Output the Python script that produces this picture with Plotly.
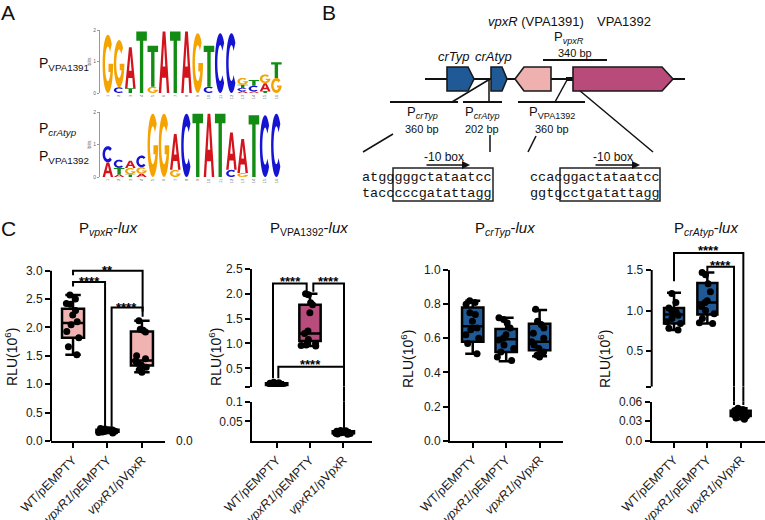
import math
import plotly.graph_objects as go

W, H = 765, 520
SANS = "Liberation Sans, Arial, sans-serif"
MONO = "Liberation Mono, Courier New, monospace"

# ------------------------------------------------------------------ DATA
categories = ["WT/pEMPTY", "<i>vpxR1</i>/pEMPTY", "<i>vpxR1</i>/pVpxR"]

# Panel C, RLU (x10^6), 12 replicates per strain
pvpxr_wt  = [2.57, 2.50, 2.42, 2.41, 2.30, 2.22, 2.10, 2.05, 1.93, 1.82, 1.66, 1.52]
pvpxr_emp = [0.22, 0.21, 0.20, 0.20, 0.19, 0.18, 0.18, 0.17, 0.17, 0.16, 0.15, 0.14]
pvpxr_vpx = [2.12, 1.97, 1.95, 1.92, 1.50, 1.45, 1.41, 1.37, 1.34, 1.30, 1.25, 1.21]

p1392_wt  = [0.22, 0.21, 0.20, 0.20, 0.19, 0.19, 0.18, 0.18, 0.17, 0.16, 0.15, 0.14]
p1392_emp = [2.00, 1.98, 1.82, 1.78, 1.62, 1.25, 1.20, 1.08, 1.00, 0.97, 0.96, 0.95]
p1392_vpx = [0.027, 0.026, 0.025, 0.024, 0.023, 0.022, 0.022, 0.021, 0.020, 0.019, 0.018, 0.017]

pcrtyp_wt  = [0.82, 0.81, 0.80, 0.75, 0.74, 0.70, 0.66, 0.65, 0.62, 0.60, 0.57, 0.51]
pcrtyp_emp = [0.72, 0.71, 0.69, 0.66, 0.62, 0.60, 0.59, 0.56, 0.54, 0.52, 0.49, 0.47]
pcrtyp_vpx = [0.77, 0.70, 0.68, 0.66, 0.63, 0.60, 0.58, 0.56, 0.54, 0.52, 0.50, 0.49]

pcratyp_wt  = [1.21, 1.10, 1.03, 1.00, 0.98, 0.96, 0.94, 0.90, 0.86, 0.84, 0.78, 0.76]
pcratyp_emp = [1.47, 1.44, 1.33, 1.23, 1.12, 1.10, 1.05, 1.00, 0.96, 0.90, 0.85, 0.84]
pcratyp_vpx = [0.050, 0.048, 0.046, 0.045, 0.044, 0.043, 0.042, 0.041, 0.040, 0.038, 0.035, 0.033]

# box statistics per category: q1, median, q3, lower whisker, upper whisker
pvpxr_q1, pvpxr_med, pvpxr_q3 = [1.82, 0.165, 1.33], [2.08, 0.18, 1.42], [2.33, 0.20, 1.93]
pvpxr_lo, pvpxr_hi = [1.52, 0.14, 1.21], [2.57, 0.22, 2.12]
p1392_q1, p1392_med, p1392_q3 = [0.165, 1.05, 0.0195], [0.18, 1.20, 0.022], [0.20, 1.78, 0.0245]
p1392_lo, p1392_hi = [0.14, 0.95, 0.017], [0.22, 2.00, 0.027]
pcrtyp_q1, pcrtyp_med, pcrtyp_q3 = [0.58, 0.52, 0.53], [0.67, 0.595, 0.58], [0.78, 0.655, 0.685]
pcrtyp_lo, pcrtyp_hi = [0.51, 0.465, 0.495], [0.82, 0.72, 0.766]
pcratyp_q1, pcratyp_med, pcratyp_q3 = [0.84, 0.95, 0.038], [0.95, 1.10, 0.042], [1.03, 1.34, 0.046]
pcratyp_lo, pcratyp_hi = [0.76, 0.84, 0.033], [1.22, 1.47, 0.050]

# significance brackets: x_left, x_right, top, left end, right end, right-end segment, label, label x, label y
pvpxr_brackets = [
    (0.0, 2.02, 3.00, 2.92, 2.19, 'u', "**", 1.0, 3.08),
    (0.0, 0.93, 2.80, 2.72, 0.25, 'u', "****", 0.49, 2.88),
    (1.12, 2.02, 2.35, 0.25, 2.28, 'u', "****", 1.56, 2.43),
]
p1392_brackets = [
    (-0.11, 0.90, 2.21, 0.30, 2.04, 'u', "****", 0.40, 2.32),
    (1.10, 2.02, 2.21, 2.04, 0.53, 'u', "****", 1.56, 2.32),
    (0.05, 2.02, 0.53, 0.30, 0.029, 'l', "****", 1.00, 0.66),
]
pcrtyp_brackets = []
pcratyp_brackets = [
    (0.0, 2.08, 1.71, 1.36, 0.055, 'l', "****", 1.02, 1.79),
    (1.0, 1.80, 1.54, 1.48, 0.055, 'l', "****", 1.38, 1.61),
]

# Panel A sequence logos: bits per letter, bottom to top, per position
logo1_columns = [
    [('G', 1.85)], [('C', 0.18), ('G', 1.50)], [('T', 0.15), ('A', 1.30)], [('T', 1.95)],
    [('G', 0.20), ('T', 1.30)], [('A', 1.95)], [('T', 1.95)], [('A', 1.95)],
    [('G', 1.90)], [('C', 0.20), ('T', 1.30)], [('C', 1.90)], [('C', 1.90)],
    [('A', 0.06), ('C', 0.10), ('T', 0.10), ('G', 0.22)],
    [('A', 0.05), ('C', 0.18), ('T', 0.18)],
    [('T', 0.06), ('A', 0.25), ('G', 0.28)],
    [('G', 0.48), ('T', 0.50)],
]
logo2_columns = [
    [('A', 0.45), ('C', 0.50)], [('A', 0.08), ('T', 0.20), ('C', 0.25)],
    [('T', 0.08), ('G', 0.20), ('A', 0.22)], [('A', 0.10), ('G', 0.20), ('C', 0.36)],
    [('G', 1.95)], [('G', 1.95)], [('G', 0.22), ('A', 1.10)], [('C', 1.95)],
    [('T', 1.95)], [('A', 1.95)], [('T', 1.95)], [('C', 0.22), ('A', 1.15)],
    [('G', 0.12), ('A', 1.05)], [('T', 1.90)], [('C', 1.90)], [('C', 1.95)],
]

# Panel B sequences
seq_left = ["atgggggctataatcc", "tacccccgatattagg"]
seq_right = ["ccacggactataatcc", "ggtgcctgatattagg"]

# ------------------------------------------------------------------ STYLE
PINK, MAGENTA, BLUE = "#F0B3B2", "#B84C7C", "#1F5A97"
LETTER_COL = {'G': '#F5A300', 'A': '#D3141C', 'T': '#128C12', 'C': '#1414D2'}


def ydom(p0, v0, p1, v1, r0, r1):
    k = (p0 - p1) / (v1 - v0)
    bot = p0 - (r0 - v0) * k
    top = p0 - (r1 - v0) * k
    return [1 - bot / H, 1 - top / H]


def xdom(a, b):
    return [a / W, b / W]


fig = go.Figure()
shapes, annotations = [], []

AXY = dict(showgrid=False, zeroline=False, showline=True, linecolor='black', linewidth=2,
           ticks='outside', ticklen=5, tickwidth=2, tickcolor='black', automargin=False,
           tickfont=dict(family=SANS, size=12, color='#1a1a1a'))
AXX = dict(AXY, tickvals=[0, 1, 2], ticktext=categories, tickangle=-45,
           tickfont=dict(family=SANS, size=12.5, color='#1a1a1a'))

charts = [
    dict(x='x', yu='y', yl=None, xd=xdom(51, 165), xr=[-0.64, 2.67],
         yud=ydom(441, 0, 270.7, 3.0, 0, 3.14), yur=[0, 3.14], spine=(0, 3.0),
         yu_ticks=[0, 0.5, 1, 1.5, 2, 2.5, 3], yu_text=['0.0', '0.5', '1.0', '1.5', '2.0', '2.5', '3.0'],
         data=[pvpxr_wt, pvpxr_emp, pvpxr_vpx], seg=['u', 'u', 'u'],
         st=(pvpxr_q1, pvpxr_med, pvpxr_q3, pvpxr_lo, pvpxr_hi), color=PINK, width=0.64,
         br=pvpxr_brackets),
    dict(x='x2', yu='y3', yl='y2', xd=xdom(252, 372), xr=[-0.74, 2.86],
         yud=ydom(368.3, 0.5, 269, 2.5, 0.129, 2.5), yur=[0.129, 2.5], spine=None,
         yu_ticks=[0.1292, 0.5, 1, 1.5, 2, 2.5], yu_text=['', '0.5', '1.0', '1.5', '2.0', '2.5'],
         yld=ydom(441, 0, 401.7, 0.1, 0, 0.1), ylr=[0, 0.1],
         yl_ticks=[0.05, 0.0999], yl_text=['0.05', '0.1'],
         data=[p1392_wt, p1392_emp, p1392_vpx], seg=['u', 'u', 'l'],
         st=(p1392_q1, p1392_med, p1392_q3, p1392_lo, p1392_hi), color=MAGENTA, width=0.64,
         br=p1392_brackets),
    dict(x='x3', yu='y4', yl=None, xd=xdom(450, 563), xr=[-0.68, 2.7],
         yud=ydom(440.7, 0, 270, 1.0, 0, 1.0), yur=[0, 1.0], spine=None,
         yu_ticks=[0, 0.2, 0.4, 0.6, 0.8, 1.0], yu_text=['0.0', '0.2', '0.4', '0.6', '0.8', '1.0'],
         data=[pcrtyp_wt, pcrtyp_emp, pcrtyp_vpx], seg=['u', 'u', 'u'],
         st=(pcrtyp_q1, pcrtyp_med, pcrtyp_q3, pcrtyp_lo, pcrtyp_hi), color=BLUE, width=0.64,
         br=pcrtyp_brackets),
    dict(x='x4', yu='y6', yl='y5', xd=xdom(651.7, 765), xr=[-0.67, 2.73],
         yud=ydom(351, 0.5, 270, 1.5, 0.059, 1.82), yur=[0.059, 1.82], spine=(0.059, 1.5),
         yu_ticks=[0.0592, 0.5, 1.0, 1.5], yu_text=['', '0.5', '1.0', '1.5'],
         yld=ydom(440.7, 0, 401.7, 0.06, 0, 0.06), ylr=[0, 0.06],
         yl_ticks=[0, 0.03, 0.0599], yl_text=['0.0', '0.03', '0.06'],
         data=[pcratyp_wt, pcratyp_emp, pcratyp_vpx], seg=['u', 'u', 'l'],
         st=(pcratyp_q1, pcratyp_med, pcratyp_q3, pcratyp_lo, pcratyp_hi), color=BLUE, width=0.6,
         br=pcratyp_brackets),
]

layout_axes = {}


def axname(ref):
    return ('xaxis' if ref[0] == 'x' else 'yaxis') + ref[1:]


for c in charts:
    bottom_y = c['yl'] or c['yu']
    layout_axes[axname(c['x'])] = dict(AXX, domain=c['xd'], range=c['xr'], anchor=bottom_y)
    layout_axes[axname(c['yu'])] = dict(AXY, domain=c['yud'], range=c['yur'], anchor=c['x'],
                                        tickvals=c['yu_ticks'], ticktext=c['yu_text'],
                                        showline=c['spine'] is None)
    if c['spine'] is not None:
        shapes.append(dict(type='line', xref=c['x'] + ' domain', yref=c['yu'], x0=0, x1=0,
                           y0=c['spine'][0], y1=c['spine'][1], line=dict(color='black', width=2)))
    if c['yl']:
        layout_axes[axname(c['yl'])] = dict(AXY, domain=c['yld'], range=c['ylr'], anchor=c['x'],
                                            tickvals=c['yl_ticks'], ticktext=c['yl_text'])
    q1, med, q3, lo, hi = c['st']
    for s in ('u', 'l'):
        idx = [i for i in range(3) if c['seg'][i] == s]
        if not idx:
            continue
        ya = c['yu'] if s == 'u' else c['yl']
        fig.add_trace(go.Box(x=idx, q1=[q1[i] for i in idx], median=[med[i] for i in idx],
                             q3=[q3[i] for i in idx], lowerfence=[lo[i] for i in idx],
                             upperfence=[hi[i] for i in idx], width=c['width'], whiskerwidth=0.7,
                             fillcolor=c['color'], line=dict(color='black', width=2.5),
                             boxpoints=False, xaxis=c['x'], yaxis=ya, hoverinfo='skip'))
        xs, ys = [], []
        for i in idx:
            xs += [i] * len(c['data'][i])
            ys += c['data'][i]
        fig.add_trace(go.Box(x=xs, y=ys, width=c['width'], boxpoints='all', jitter=0.85, pointpos=0,
                             fillcolor='rgba(0,0,0,0)', line=dict(color='rgba(0,0,0,0)', width=0),
                             marker=dict(color='black', size=7, line=dict(width=0)),
                             xaxis=c['x'], yaxis=ya, hoverinfo='skip'))
    # brackets
    for (xl, xr, top, yl, yr, rseg, lab, tx, ty) in c['br']:
        yr_u = yr if rseg == 'u' else c['yur'][0]
        fig.add_trace(go.Scatter(x=[xl, xl, xr, xr], y=[yl, top, top, yr_u], mode='lines',
                                 line=dict(color='black', width=2), xaxis=c['x'], yaxis=c['yu'],
                                 hoverinfo='skip'))
        if rseg == 'l':
            fig.add_trace(go.Scatter(x=[xr, xr], y=[c['ylr'][1], yr], mode='lines',
                                     line=dict(color='black', width=2), xaxis=c['x'], yaxis=c['yl'],
                                     hoverinfo='skip'))
            shapes.append(dict(type='line', xref=c['x'], yref='paper', x0=xr, x1=xr,
                               y0=c['yld'][1], y1=c['yud'][0], line=dict(color='black', width=2)))
        annotations.append(dict(text="<b>%s</b>" % lab, x=tx, y=ty, xref=c['x'], yref=c['yu'],
                                showarrow=False, yshift=-4,
                                font=dict(family=SANS, size=13, color='black')))

# ------------------------------------------------------------------ LOGOS


def arc(cx, cy, rx, ry, a0, a1, n=28):
    return [(cx + rx * math.cos(math.radians(a0 + (a1 - a0) * i / n)),
             cy + ry * math.sin(math.radians(a0 + (a1 - a0) * i / n))) for i in range(n + 1)]


GLYPHS = {
    'T': [[(0, 1), (1, 1), (1, 0.85), (0.66, 0.85), (0.66, 0), (0.34, 0), (0.34, 0.85), (0, 0.85)]],
    'A': [[(0, 0), (0.37, 1), (0.63, 1), (1, 0), (0.77, 0), (0.69, 0.25), (0.31, 0.25), (0.23, 0)],
          [(0.38, 0.43), (0.62, 0.43), (0.5, 0.8)]],
    'C': [arc(0.5, 0.5, 0.5, 0.5, 42, 318) + arc(0.5, 0.5, 0.27, 0.3, 318, 42)],
    'G': [arc(0.5, 0.5, 0.5, 0.5, 42, 360) + [(0.56, 0.5), (0.56, 0.36), (0.74, 0.36)]
          + arc(0.5, 0.5, 0.27, 0.3, 332, 42)],
}


def letter_path(ch, col, y0, h):
    pad = 0.03
    parts = []
    for poly in GLYPHS[ch]:
        pts = ["%.4f,%.4f" % (col - 0.5 + pad + u * (1 - 2 * pad), y0 + v * h) for u, v in poly]
        parts.append("M" + " L".join(pts) + " Z")
    return " ".join(parts)


logos = [('x5', 'y7', logo1_columns, xdom(100, 282), ydom(93, 0, 30, 2, 0, 2)),
         ('x6', 'y8', logo2_columns, xdom(100, 282), ydom(177, 0, 112, 2, 0, 2))]
for xa, ya, cols, xd, yd in logos:
    layout_axes[axname(xa)] = dict(domain=xd, range=[0.3, 16.5], anchor=ya, showgrid=False, zeroline=False,
                                   showline=False, ticks='', tickvals=list(range(1, 17)), automargin=False,
                                   tickangle=-90, tickfont=dict(family=SANS, size=4, color='#666'))
    layout_axes[axname(ya)] = dict(domain=yd, range=[0, 2], anchor=xa, showgrid=False, zeroline=False,
                                   showline=True, linecolor='#999', linewidth=1, ticks='outside',
                                   ticklen=2, tickcolor='#999', tickvals=[0, 1, 2], automargin=False,
                                   tickfont=dict(family=SANS, size=5, color='#666'),
                                   title=dict(text='bits', font=dict(family=SANS, size=5, color='#666'),
                                              standoff=1))
    for ci, stack in enumerate(cols, start=1):
        y0 = 0.0
        for ch, h in stack:
            shapes.append(dict(type='path', xref=xa, yref=ya, path=letter_path(ch, ci, y0, h),
                               fillcolor=LETTER_COL[ch], line=dict(width=0), layer='above'))
            y0 += h

# ------------------------------------------------------------------ DIAGRAM (pixel frame)
layout_axes['xaxis7'] = dict(domain=[0, 1], range=[0, W], visible=False, anchor='y9', automargin=False)
layout_axes['yaxis9'] = dict(domain=[0, 1], range=[H, 0], visible=False, anchor='x7', automargin=False)
fig.add_trace(go.Scatter(x=[0], y=[0], mode='markers', marker=dict(opacity=0),
                         xaxis='x7', yaxis='y9', hoverinfo='skip'))


def P(**kw):
    d = dict(xref='x7', yref='y9')
    d.update(kw)
    return d


diagram_lines = [
    (425, 79, 685, 79, 2), (566, 79, 574, 79, 4), (543, 60, 607, 60, 2),
    (390, 102, 458, 102, 2), (463, 102, 502, 102, 2), (518, 102, 585, 102, 2),
    (490, 79, 452, 102, 1.5), (489, 80, 489, 102, 1.5), (567, 80, 555, 102, 1.5),
    (573, 85, 653, 152, 1.5), (393, 134, 363, 152, 1.5), (490, 135, 490, 152, 1.5),
    (536, 136, 528, 152, 1.5),
]
for x0, y0, x1, y1, w in diagram_lines:
    shapes.append(P(type='line', x0=x0, y0=y0, x1=x1, y1=y1, line=dict(color='#111', width=w)))

genes = [(447, 474, 'right', 6, BLUE), (491, 507, 'right', 5, BLUE),
         (515, 551, 'left', 9, "#EFB1AF"), (573, 673, 'right', 11, "#B94B7B")]
gt, gb = 67, 91
gm = (gt + gb) / 2
for xl, xr, d, hl, col in genes:
    if d == 'right':
        pth = "M%d,%d L%d,%d L%d,%d L%d,%d L%d,%d Z" % (xl, gt, xr - hl, gt, xr, gm, xr - hl, gb, xl, gb)
    else:
        pth = "M%d,%d L%d,%d L%d,%d L%d,%d L%d,%d Z" % (xl, gm, xl + hl, gt, xr, gt, xr, gb, xl + hl, gb)
    shapes.append(P(type='path', path=pth, fillcolor=col, line=dict(color='#1a1a1a', width=1.6)))

for bx0, bx1 in [(393, 493), (560, 660)]:
    shapes.append(P(type='rect', x0=bx0, x1=bx1, y0=168, y1=201, line=dict(color='#222', width=1.5)))

for ax0, ax1 in [(425, 470), (594, 640)]:
    annotations.append(P(x=ax1, y=165, ax=ax0, ay=165, axref='x7', ayref='y9', text='', showarrow=True,
                         arrowhead=2, arrowsize=1, arrowwidth=1.6, arrowcolor='#111'))


def T(text, x, y, size, xanchor='center', family=SANS, angle=0):
    annotations.append(P(text=text, x=x, y=y, showarrow=False, xanchor=xanchor, yanchor='middle',
                         textangle=angle, font=dict(family=family, size=size, color='#111')))


T("A", 8, 12, 21)
T("B", 329, 12, 21)
T("C", 8, 228, 21)
T("P<sub>VPA1391</sub>", 37, 64, 14, 'left')
T("P<sub><i>crAtyp</i></sub>", 37, 129, 14, 'left')
T("P<sub>VPA1392</sub>", 37, 157, 14, 'left')

T("<i>vpxR</i> (VPA1391)", 536, 21, 13)
T("VPA1392", 624, 21, 13)
T("P<sub><i>vpxR</i></sub>", 569, 37, 13)
T("340 bp", 575, 53, 11)
T("<i>crTyp</i>", 454, 56, 13)
T("<i>crAtyp</i>", 493, 56, 13)
T("P<sub><i>crTyp</i></sub>", 422, 112, 13)
T("360 bp", 422, 128.5, 11)
T("P<sub><i>crAtyp</i></sub>", 482, 112, 13)
T("202 bp", 482, 128.5, 11)
T("P<sub>VPA1392</sub>", 552, 112, 13)
T("360 bp", 552, 128.5, 11)
T("-10 box", 444, 157, 12)
T("-10 box", 613, 157, 12)
for i, s in enumerate(seq_left):
    T(s, 360, 177 + 16.5 * i, 13.5, 'left', MONO)
for i, s in enumerate(seq_right):
    T(s, 528, 177 + 16.5 * i, 13.5, 'left', MONO)

T("P<sub><i>vpxR</i></sub>-<i>lux</i>", 108, 228, 15)
T("P<sub>VPA1392</sub>-<i>lux</i>", 309, 228, 15)
T("P<sub><i>crTyp</i></sub>-<i>lux</i>", 505, 228, 15)
T("P<sub><i>crAtyp</i></sub>-<i>lux</i>", 706, 228, 15)
for xx, yy in [(11, 357), (215, 357), (407, 359), (604, 359)]:
    T("RLU(10<sup>6</sup>)", xx, yy, 14, angle=-90)
T("0.0", 184, 441, 12)

fig.update_layout(width=W, height=H, margin=dict(l=0, r=0, t=0, b=0, autoexpand=False),
                  paper_bgcolor='white', template='none',
                  plot_bgcolor='rgba(0,0,0,0)', showlegend=False, boxmode='overlay',
                  font=dict(family=SANS), shapes=shapes, annotations=annotations, **layout_axes)
fig.write_html("out.html", config={'displayModeBar': False},
               post_script="document.body.style.margin='0px';document.body.style.padding='0px';")
